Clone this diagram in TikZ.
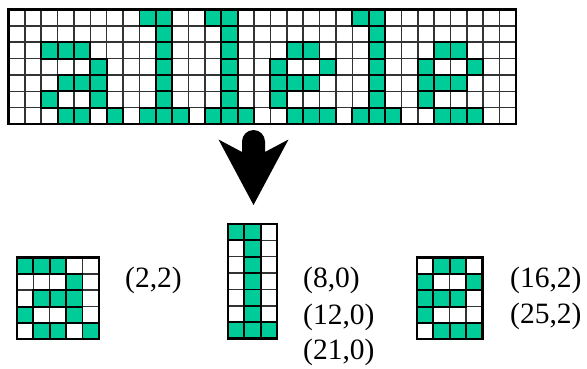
\documentclass[tikz,border=0pt]{standalone}
\usepackage{fontspec}
\setmainfont{Liberation Serif}
\definecolor{cellgreen}{RGB}{0,204,153}
\tikzset{
  cellw/.style={draw=black!80, line width=1.5pt, fill=white},
  cellg/.style={draw=black, line width=1.9pt, fill=cellgreen},
  outerb/.style={draw=black, line width=2.2pt},
  lbl/.style={anchor=west, inner sep=0pt, font=\fontsize{29.5}{35}\selectfont},
}
\def\s{16.37}
\newcommand\pixgrid[5]{%
  \foreach \c in {1,...,#3} {\foreach \r in {1,...,#4} {\draw[cellw] ({#1+(\c-1)*\s},{#2+(\r-1)*\s}) rectangle ++(\s,\s);}}
  \foreach \c/\r in {#5} {\draw[cellg] ({#1+\c*\s},{#2+\r*\s}) rectangle ++(\s,\s);}
  \draw[outerb] (#1,#2) rectangle ++({#3*\s},{#4*\s});
}
\begin{document}
\begin{tikzpicture}[x=1pt,y=-1pt]
\useasboundingbox (0,0) rectangle (587,369);
% top grid
\pixgrid{8.5}{9.5}{31}{7}{2/2,3/2,4/2,5/3,3/4,4/4,5/4,2/5,5/5,3/6,4/6,6/6,
 8/0,9/0,9/1,9/2,9/3,9/4,9/5,8/6,9/6,10/6,
 12/0,13/0,13/1,13/2,13/3,13/4,13/5,12/6,13/6,14/6,
 21/0,22/0,22/1,22/2,22/3,22/4,22/5,21/6,22/6,23/6,
 17/2,18/2,16/3,19/3,16/4,17/4,18/4,16/5,17/6,18/6,19/6,
 26/2,27/2,25/3,28/3,25/4,26/4,27/4,25/5,26/6,27/6,28/6}
% arrow
\fill[black] (242,152) -- (242,141.5) arc[start angle=180, end angle=0, radius=11.5pt]
  -- (265,152) -- (288.5,139.5) -- (253.5,205) -- (218.5,139.5) -- cycle;
% small grids
\pixgrid{17}{257.5}{5}{5}{0/0,1/0,2/0,3/1,1/2,2/2,3/2,0/3,3/3,1/4,2/4,4/4}
\pixgrid{228}{224}{3}{7}{0/0,1/0,1/1,1/2,1/3,1/4,1/5,0/6,1/6,2/6}
\pixgrid{417}{257.5}{4}{5}{1/0,2/0,0/1,3/1,0/2,1/2,2/2,0/3,1/4,2/4,3/4}
% labels
\node[lbl] (la) at (125,280) {(2,2)};
\node[lbl] (l1) at (303,280) {(8,0)};
\node[lbl] (l2) at (303,317) {(12,0)};
\node[lbl] (l3) at (303,352) {(21,0)};
\node[lbl] (e1) at (510,280) {(16,2)};
\node[lbl] (e2) at (510,316) {(25,2)};
\end{tikzpicture}
\end{document}
